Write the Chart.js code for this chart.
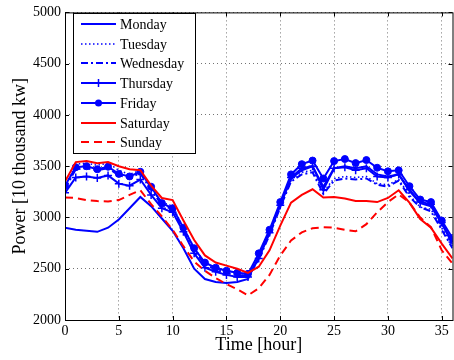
<!DOCTYPE html>
<html>
<head>
<meta charset="utf-8">
<script src="https://cdn.jsdelivr.net/npm/chart.js@4.4.0/dist/chart.umd.min.js"></script>
<style>
  html, body { margin:0; padding:0; background:#fff; overflow:hidden; }
  canvas { display:block; }
</style>
</head>
<body>
<canvas id="powerChart" width="458" height="360"></canvas>
<script>
// hours 0..36
const hours = [0,1,2,3,4,5,6,7,8,9,10,11,12,13,14,15,16,17,18,19,20,21,22,23,24,25,26,27,28,29,30,31,32,33,34,35,36];

const monday    = [2900,2880,2870,2860,2900,2980,3090,3200,3110,2990,2870,2700,2500,2400,2370,2360,2370,2400,2620,2850,3120,3380,3460,3500,3300,3480,3500,3480,3500,3420,3400,3420,3260,3140,3110,2940,2740];
const tuesday   = [3300,3520,3530,3510,3530,3460,3420,3460,3280,3150,3110,2900,2700,2560,2510,2480,2460,2440,2600,2850,3120,3370,3440,3460,3250,3380,3400,3390,3400,3330,3320,3370,3220,3100,3080,2900,2720];
const wednesday = [3280,3470,3480,3460,3480,3410,3390,3430,3270,3120,3080,2880,2680,2540,2490,2460,2440,2430,2590,2830,3100,3350,3420,3440,3230,3360,3380,3370,3380,3320,3300,3360,3200,3100,3060,2880,2700];
const thursday  = [3240,3390,3400,3385,3410,3330,3310,3370,3220,3090,3050,2860,2650,2510,2470,2440,2420,2420,2600,2850,3120,3390,3480,3500,3270,3480,3490,3460,3480,3400,3390,3420,3270,3150,3130,2950,2760];
const friday    = [3310,3490,3500,3470,3495,3425,3400,3445,3300,3140,3090,2900,2700,2560,2510,2480,2460,2450,2650,2880,3150,3420,3520,3555,3380,3550,3570,3530,3560,3485,3450,3460,3305,3175,3150,2970,2800];
const saturday  = [3350,3540,3550,3530,3540,3500,3470,3460,3310,3190,3170,2970,2780,2630,2560,2530,2500,2460,2520,2680,2920,3145,3220,3275,3195,3200,3185,3160,3160,3150,3190,3265,3145,2985,2900,2745,2600];
const sunday    = [3195,3190,3170,3160,3155,3170,3220,3265,3130,3010,2880,2720,2570,2480,2410,2350,2300,2240,2310,2440,2630,2775,2855,2895,2905,2900,2880,2865,2935,3050,3150,3225,3145,3000,2905,2680,2550];

const dayNames = ['Monday','Tuesday','Wednesday','Thursday','Friday','Saturday','Sunday'];

const BLUE = '#0000ff';
const RED = '#ff0000';
const SERIF = '"Liberation Serif", "Times New Roman", serif';

function pts(vals){
  return vals.map((v,i)=>({x: hours[i], y: v}));
}

function ds(label, vals, color, extra){
  return Object.assign({
    label,
    data: pts(vals),
    borderColor: color,
    backgroundColor: color,
    borderWidth: 2,
    pointRadius: 0,
    tension: 0,
    fill: false
  }, extra || {});
}

const datasets = [
  ds(dayNames[0], monday, BLUE, {order:6}),
  ds(dayNames[1], tuesday, BLUE, {order:5, borderWidth:1.5, borderDash:[1.5,2.5]}),
  ds(dayNames[2], wednesday, BLUE, {order:4, borderDash:[7,3,2,3]}),
  ds(dayNames[3], thursday, BLUE, {order:3, pointStyle:'cross', pointRadius:4, pointBorderWidth:1.5}),
  ds(dayNames[4], friday, BLUE, {order:2, pointStyle:'circle', pointRadius:3.5, pointBorderWidth:1}),
  ds(dayNames[5], saturday, RED, {order:1}),
  ds(dayNames[6], sunday, RED, {order:0, borderDash:[8,5]})
];

// black box around the plot + small inward ticks
const frame = {
  id: 'frame',
  afterDatasetsDraw(chart){
    const {ctx, chartArea:a, scales} = chart;
    ctx.save();
    ctx.strokeStyle = '#000';
    ctx.lineWidth = 1;
    ctx.strokeRect(a.left + 0.5, a.top + 0.5, a.right - a.left, a.bottom - a.top);
    ctx.beginPath();
    scales.x.ticks.forEach(t=>{
      const x = Math.round(scales.x.getPixelForValue(t.value)) + 0.5;
      ctx.moveTo(x, a.bottom); ctx.lineTo(x, a.bottom - 4);
      ctx.moveTo(x, a.top); ctx.lineTo(x, a.top + 4);
    });
    scales.y.ticks.forEach(t=>{
      const y = Math.round(scales.y.getPixelForValue(t.value)) + 0.5;
      ctx.moveTo(a.left, y); ctx.lineTo(a.left + 4, y);
      ctx.moveTo(a.right, y); ctx.lineTo(a.right - 4, y);
    });
    ctx.stroke();
    ctx.restore();
  }
};

// legend box in the upper left, MATLAB style
const boxLegend = {
  id: 'boxLegend',
  afterDraw(chart){
    const ctx = chart.ctx;
    const bx = 73, by = 13, bw = 122, bh = 140;
    const row0 = 24, rowH = 19.7;
    ctx.save();
    ctx.fillStyle = '#fff';
    ctx.fillRect(bx, by, bw, bh);
    ctx.strokeStyle = '#000';
    ctx.lineWidth = 1;
    ctx.strokeRect(bx + 0.5, by + 0.5, bw, bh);
    ctx.font = '14px ' + SERIF;
    ctx.textBaseline = 'middle';
    chart.data.datasets.forEach((d,i)=>{
      const y = Math.round(row0 + i*rowH);
      ctx.strokeStyle = d.borderColor;
      ctx.fillStyle = d.borderColor;
      ctx.lineWidth = d.borderWidth;
      ctx.setLineDash(d.borderDash || []);
      ctx.beginPath();
      ctx.moveTo(81, y); ctx.lineTo(116, y);
      ctx.stroke();
      ctx.setLineDash([]);
      const mx = 98.5;
      if(d.pointStyle === 'cross'){
        ctx.lineWidth = 1.5;
        ctx.beginPath();
        ctx.moveTo(mx - 4, y); ctx.lineTo(mx + 4, y);
        ctx.moveTo(mx, y - 4); ctx.lineTo(mx, y + 4);
        ctx.stroke();
      } else if(d.pointStyle === 'circle'){
        ctx.beginPath();
        ctx.arc(mx, y, 3.5, 0, Math.PI*2);
        ctx.fill();
      }
      ctx.fillStyle = '#000';
      ctx.fillText(d.label, 120, y + 1);
    });
    ctx.restore();
  }
};

const gridStyle = {
  color: 'rgba(0,0,0,0.55)',
  lineWidth: 1,
  drawTicks: false
};

new Chart(document.getElementById('powerChart'), {
  type: 'line',
  data: { datasets },
  plugins: [frame, boxLegend],
  options: {
    responsive: false,
    animation: false,
    layout: { padding: { top: 10, right: 2, left: 0, bottom: 0 } },
    plugins: { legend: { display: false }, tooltip: { enabled: false } },
    scales: {
      x: {
        type: 'linear',
        min: 0, max: 36,
        grid: gridStyle,
        border: { display: false, dash: [1,3] },
        ticks: { stepSize: 5, includeBounds: false, color: '#000', padding: 3, maxRotation: 0,
                 font: { family: SERIF, size: 14 }, callback: v => String(v) },
        title: { display: true, text: 'Time [hour]', color: '#000',
                 font: { family: SERIF, size: 18 }, padding: { top: 0, bottom: 4 } },
        afterFit(s){ s.height = 40; }
      },
      y: {
        min: 2000, max: 5000,
        grid: gridStyle,
        border: { display: false, dash: [1,3] },
        ticks: { stepSize: 500, color: '#000', padding: 4,
                 font: { family: SERIF, size: 14 }, callback: v => String(v) },
        title: { display: true, text: 'Power [10 thousand kw]', color: '#000',
                 font: { family: SERIF, size: 18 }, padding: { top: 9, bottom: 0 } },
        afterFit(s){ s.width = 65; }
      }
    }
  }
});
</script>
</body>
</html>
